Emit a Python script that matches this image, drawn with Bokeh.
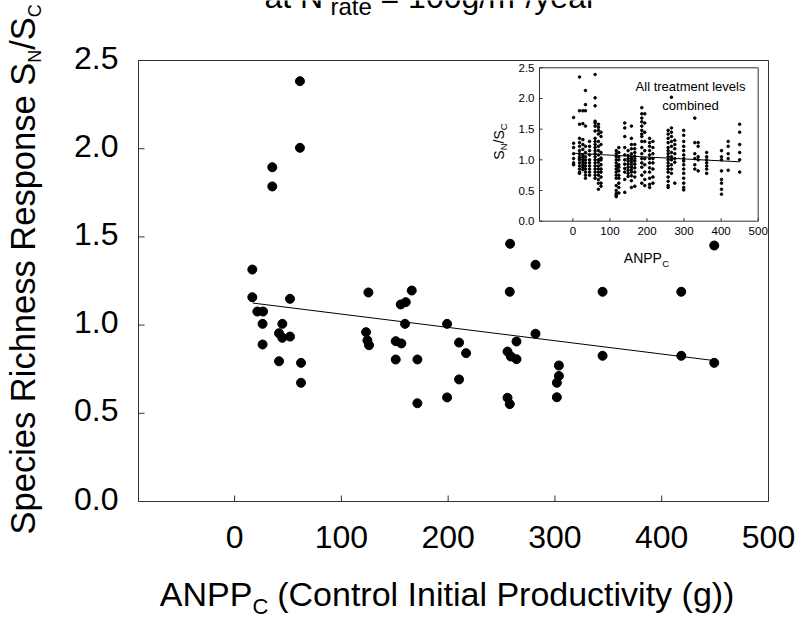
import math
from bokeh.plotting import figure
from bokeh.models import Range1d, Label
from bokeh.core.properties import value
from bokeh.embed import file_html
from bokeh.resources import INLINE

# ------------------------------------------------------------------ data
main_x = [61.2, 61.2, 35.3, 35.3, 16.6, 16.6, 51.9, 21.3, 26.6, 26.2, 44.7, 41.6,
          44.7, 51.9, 26.2, 41.6, 62.2, 62.2, 125.3, 123.1, 124.4, 125.9, 155.6,
          160.3, 165.9, 159.6, 150.9, 156.2, 150.9, 171.2, 171.2, 199.0, 210.2,
          216.8, 210.2, 199.0, 258.0, 281.8, 257.7, 344.6, 418.3, 449.2, 281.8,
          264.0, 255.6, 258.7, 264.0, 303.7, 303.7, 301.8, 301.8, 255.6, 257.7,
          344.6, 418.3, 449.2]
main_y = [2.383, 2.005, 1.895, 1.786, 1.315, 1.158, 1.149, 1.077, 1.077, 1.007,
          1.007, 0.954, 0.928, 0.935, 0.890, 0.795, 0.786, 0.673, 1.185, 0.960,
          0.913, 0.886, 1.117, 1.130, 1.196, 1.007, 0.909, 0.896, 0.805, 0.805,
          0.557, 1.007, 0.901, 0.841, 0.692, 0.590, 1.461, 1.342, 1.189, 1.189,
          1.189, 1.451, 0.951, 0.907, 0.850, 0.822, 0.807, 0.771, 0.712, 0.673,
          0.591, 0.588, 0.552, 0.826, 0.826, 0.786]
main_fit_x = [17.0, 449.0]
main_fit_y = [1.125, 0.799]

inset_col_x = [2, 18, 27, 34, 45, 60, 69, 76, 117, 124, 140, 149, 158, 167, 186,
               194, 207, 216, 257, 266, 275, 299, 329, 338, 361, 401, 419, 450]
inset_col_y = [
    [1.69, 1.27, 1.20, 1.10, 1.02, 0.95, 0.92],
    [2.35, 1.80, 1.58, 1.35, 1.28, 1.22, 1.15, 1.10, 1.05, 1.02, 1.00, 0.95, 0.90, 0.85, 0.80, 0.78],
    [1.80, 1.59, 1.33, 1.25, 1.17, 1.08, 1.04, 1.00, 0.96, 0.92, 0.88, 0.84],
    [2.13, 1.90, 1.80, 1.55, 1.22, 1.12, 1.05, 1.00, 0.95, 0.90, 0.85, 0.80, 0.75, 0.70],
    [1.30, 1.22, 1.15, 1.08, 1.00, 0.95, 0.90, 0.85, 0.80, 0.75],
    [2.39, 2.01, 1.88, 1.63, 1.60, 1.55, 1.47, 1.35, 1.30, 1.25, 1.20, 1.15, 1.10, 1.05, 1.00, 0.95, 0.90, 0.85, 0.80, 0.75, 0.70],
    [1.58, 1.53, 1.48, 1.42, 1.30, 1.22, 1.15, 1.08, 1.00, 0.96, 0.90, 0.85, 0.80, 0.75, 0.68, 0.62, 0.52],
    [1.45, 1.38, 1.25, 1.12, 1.03, 1.00, 0.92, 0.85, 0.80, 0.72, 0.62, 0.57],
    [1.15, 1.10, 1.05, 1.00, 0.95, 0.90, 0.85, 0.80, 0.75, 0.70, 0.58, 0.50, 0.45, 0.42, 0.40],
    [1.20, 1.12, 1.05, 1.00, 0.92, 0.88, 0.82, 0.75, 0.70, 0.62, 0.55, 0.46],
    [1.60, 1.52, 1.38, 1.20, 1.08, 1.00, 0.93, 0.86, 0.80, 0.68, 0.47],
    [1.15, 1.07, 1.02, 0.98, 0.93, 0.88, 0.83, 0.78, 0.73],
    [1.55, 1.35, 1.25, 1.18, 1.10, 1.05, 1.02, 1.00, 0.96, 0.92, 0.88, 0.84, 0.80, 0.74, 0.66, 0.55],
    [1.25, 1.18, 1.12, 1.06, 1.02, 0.98, 0.93, 0.87, 0.80, 0.72, 0.57],
    [1.85, 1.75, 1.68, 1.62, 1.55, 1.48, 1.42, 1.38, 1.30, 1.20, 1.10, 1.02, 0.95, 0.88, 0.75, 0.62],
    [1.75, 1.60, 1.45, 1.30, 1.15, 1.02, 0.92, 0.80, 0.68, 0.58],
    [1.35, 1.28, 1.22, 1.15, 1.08, 1.02, 0.95, 0.87, 0.80, 0.70, 0.60, 0.55],
    [1.30, 1.20, 1.10, 1.02, 0.95, 0.85, 0.72, 0.62],
    [1.48, 1.42, 1.35, 1.28, 1.20, 1.15, 1.10, 1.05, 1.00, 0.95, 0.90, 0.85, 0.80, 0.72, 0.65, 0.58, 0.55],
    [2.02, 1.52, 1.45, 1.38, 1.30, 1.22, 1.12, 1.05, 1.00, 0.92, 0.85, 0.78],
    [1.32, 1.25, 1.18, 1.10, 1.02, 0.96, 0.62],
    [1.48, 1.40, 1.30, 1.22, 1.15, 1.08, 1.02, 0.98, 0.92, 0.85, 0.78, 0.70, 0.62, 0.55, 0.51],
    [1.68, 1.28, 1.10, 1.02, 0.92, 0.85],
    [1.28, 1.22, 1.05, 1.00, 0.82],
    [1.12, 1.05, 1.00, 0.95, 0.90, 0.85, 0.78],
    [1.15, 1.05, 1.00, 0.82, 0.68, 0.62, 0.52, 0.44],
    [1.30, 1.22, 1.10, 1.02, 0.83],
    [1.58, 1.45, 1.25, 1.12, 1.00, 0.80],
]
inset_fit_x = [4.0, 450.0]
inset_fit_y = [1.107, 0.968]

x_ticks = [0, 100, 200, 300, 400, 500]
x_tick_labels = ["0", "100", "200", "300", "400", "500"]
y_ticks = [0.0, 0.5, 1.0, 1.5, 2.0, 2.5]
y_tick_labels = ["0.0", "0.5", "1.0", "1.5", "2.0", "2.5"]
x_lim = (-90, 500)
y_lim = (0, 2.5)

# ------------------------------------------------------------------ layout / style
W, H = 799, 617
ML, MR, MT, MB = 138, 768, 60, 501           # main plot box (px)
IL, IR, IT, IB = 539, 757.7, 67.3, 220.7     # inset plot box (px)
AX = "#333333"
FONT = "Liberation Sans"
BASE_FIX = 0.35      # renderer places "alphabetic" text about 0.35 em too low


def span(lo_px, hi_px, lim, total):
    """Range whose full canvas extent puts lim[0]..lim[1] at lo_px..hi_px."""
    k = (hi_px - lo_px) / (lim[1] - lim[0])
    return k, lim[0] - lo_px / k, lim[1] + (total - hi_px) / k


kx, mx0, mx1 = span(ML, MR, x_lim, W)
ky, my0, my1 = span(H - MB, H - MT, y_lim, H)
jx, ix0, ix1 = span(IL, IR, x_lim, W)
jy, iy0, iy1 = span(H - IB, H - IT, y_lim, H)

p = figure(width=W, height=H, x_range=Range1d(mx0, mx1), y_range=Range1d(my0, my1),
           output_backend="svg", toolbar_location=None,
           x_axis_location=None, y_axis_location=None,
           min_border=0, min_border_left=0, min_border_right=0,
           min_border_top=0, min_border_bottom=0)
p.background_fill_color = "white"
p.border_fill_color = "white"
p.outline_line_color = None
p.grid.visible = False
p.extra_x_ranges = {"ix": Range1d(ix0, ix1)}
p.extra_y_ranges = {"iy": Range1d(iy0, iy1)}
R = dict(x_range_name="ix", y_range_name="iy")


def axes_box(kxx, kyy, tick_len, lab_size, x_lab_gap, y_lab_gap, y_lab_lift,
             x_baseline, **rng):
    nx, ny = len(x_ticks), len(y_ticks)
    p.quad(left=[x_lim[0]], right=[x_lim[1]], bottom=[y_lim[0]], top=[y_lim[1]],
           fill_color="white", line_color=AX, line_width=1, **rng)
    p.segment(x0=x_ticks, y0=[y_lim[0]] * nx, x1=x_ticks,
              y1=[y_lim[0] + tick_len / kyy] * nx, line_color=AX, line_width=1, **rng)
    p.segment(x0=[x_lim[0]] * ny, y0=y_ticks, x1=[x_lim[0] + tick_len / kxx] * ny,
              y1=y_ticks, line_color=AX, line_width=1, **rng)
    p.text(x=x_ticks, y=[y_lim[0] - x_lab_gap / kyy] * nx, text=x_tick_labels,
           text_align="center", text_baseline=x_baseline, text_font=value(FONT),
           text_font_size=lab_size, text_color="black", **rng)
    p.text(x=[x_lim[0] - y_lab_gap / kxx] * ny, y=[t + y_lab_lift / kyy for t in y_ticks],
           text=y_tick_labels, text_align="right", text_baseline="middle",
           text_font=value(FONT), text_font_size=lab_size, text_color="black", **rng)


# main panel (tick-label baseline ~47 px under the axis, corrected)
axes_box(kx, ky, 6, "32px", 47 - BASE_FIX * 32, 20, 3, "alphabetic")
p.scatter(main_x, main_y, size=9, color="black")
p.line(main_fit_x, main_fit_y, color="black", line_width=1)

# inset panel
axes_box(jx, jy, 3, "11.5px", 6, 5, 0, "top", **R)
ix = [x for x, ys in zip(inset_col_x, inset_col_y) for _ in ys]
iy = [y for ys in inset_col_y for y in ys]
p.scatter(ix, iy, size=2.6, color="black", **R)
p.line(inset_fit_x, inset_fit_y, color="black", line_width=1, **R)

a = math.pi / 2


def lab(text, cx, cy, size, angle=0.0, align="left"):
    """cx, cy: wanted position of the text baseline start, canvas px."""
    if angle == 0.0:
        cy = cy - BASE_FIX * size
    else:
        cx = cx - BASE_FIX * size
    p.add_layout(Label(x=cx, y=H - cy, x_units="screen", y_units="screen",
                       text=text, text_font=FONT, text_font_size=f"{size}px",
                       text_color="black", angle=angle, text_align=align,
                       text_baseline="alphabetic"))


# top title (cut by the page edge, as in the source image)
lab("at N", 264, 7.5, 32)
lab("rate", 330, 14.5, 24)
lab("= 100g/m\u00b2/year", 380, 7.5, 32)

# x-axis title
lab("ANPP", 159.3, 605, 34)
lab("C", 252, 614, 22)
lab("(Control Initial Productivity (g))", 276.7, 605, 34)

# y-axis title, pieces chained along the rotated baseline
F, f = 34.5, 18
y0 = 534
lab("Species Richness Response S", 35, y0, F, a)
y1 = y0 - 13.672 * F
lab("N", 41, y1, f, a)
y2 = y1 - 0.722 * f
lab("/S", 35, y2, F, a)
y3 = y2 - 0.945 * F
lab("C", 41, y3, f, a)

# inset titles
lab("ANPP", 623.3, 262, 14)
lab("C", 661.8, 266, 9.5)
Fi, fi = 14, 9.5
j0 = 159.2
lab("S", 503, j0, Fi, a)
j1 = j0 - 0.667 * Fi
lab("N", 506, j1, fi, a)
j2 = j1 - 0.722 * fi
lab("/S", 503, j2, Fi, a)
j3 = j2 - 0.945 * Fi
lab("C", 506, j3, fi, a)

lab("All treatment levels", 690, 91, 13, align="center")
lab("combined", 690, 110, 13, align="center")

open("out.html", "w").write(file_html(p, INLINE))
